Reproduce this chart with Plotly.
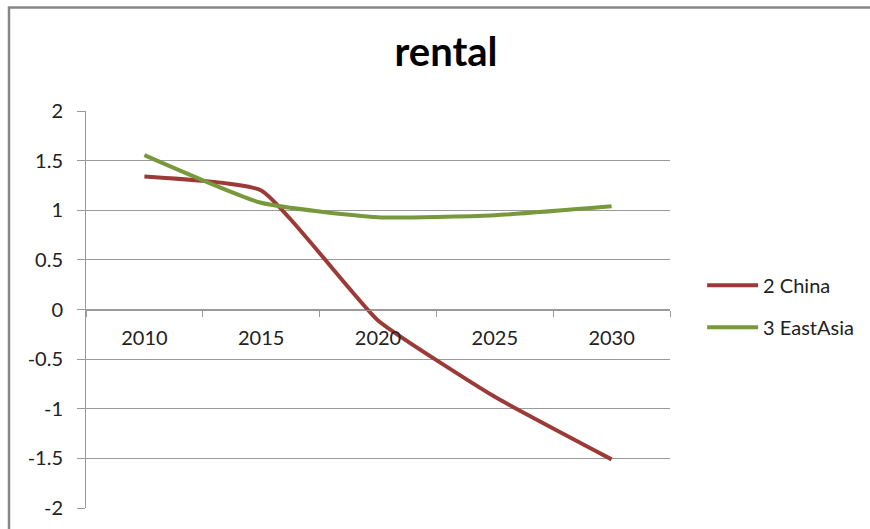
import plotly.graph_objects as go

years = ["2010", "2015", "2020", "2025", "2030"]
china = [1.34, 1.20, -0.11, -0.88, -1.51]
eastasia = [1.555, 1.075, 0.93, 0.95, 1.04]
y_tickvals = [-2, -1.5, -1, -0.5, 0, 0.5, 1, 1.5, 2]
y_ticktext = ["-2", "-1.5", "-1", "-0.5", "0", "0.5", "1", "1.5", "2"]

FONT = "Lato"
GRID = "#9a9a9a"

fig = go.Figure()
fig.add_trace(go.Scatter(x=years, y=china, name="2 China", mode="lines",
                         line=dict(color="#9b3a36", width=4, shape="spline", smoothing=0.4),
                         legendgroup="a"))
fig.add_trace(go.Scatter(x=years, y=eastasia, name="3 EastAsia", mode="lines",
                         line=dict(color="#77983b", width=4, shape="spline", smoothing=0.5),
                         legendgroup="b"))

fig.update_layout(
    width=870, height=529,
    margin=dict(l=86, r=200, t=111, b=21, autoexpand=False),
    paper_bgcolor="white", plot_bgcolor="white",
    font=dict(family=FONT, size=20, color="#222222"),
    title=dict(text="<b>rental</b>", font=dict(family=FONT, size=40, color="black"),
               x=446/870, xref="container", xanchor="center",
               y=1-52/529, yref="container", yanchor="middle"),
    showlegend=True,
    legend=dict(x=1.055, xanchor="left", y=0.508, yanchor="middle",
                itemwidth=51,
                font=dict(family=FONT, size=20, color="#222222"),
                tracegroupgap=13, traceorder="grouped", bgcolor="rgba(0,0,0,0)"),
    xaxis=dict(type="category", anchor="free", position=0.5, range=[-0.5, 4.5],
               automargin=False,
               showline=True, linecolor=GRID, linewidth=1,
               ticks="outside", ticklen=6, tickcolor=GRID, tickson="boundaries",
               showgrid=False, zeroline=False, ticklabelstandoff=10,
               tickfont=dict(family=FONT, size=20, color="#222222")),
    yaxis=dict(range=[-2, 2], tickvals=y_tickvals, ticktext=y_ticktext,
               automargin=False,
               showline=True, linecolor=GRID, linewidth=1,
               ticks="outside", ticklen=8, tickcolor=GRID,
               showgrid=True, gridcolor=GRID, gridwidth=1, zeroline=False,
               ticklabelstandoff=10,
               tickfont=dict(family=FONT, size=20, color="#222222")),
    shapes=[dict(type="rect", xref="paper", yref="paper",
                 x0=(9-86)/584, x1=(880-86)/584, y0=(508-540)/397, y1=(508-7.5)/397,
                 line=dict(color="#878787", width=2.5), fillcolor="rgba(0,0,0,0)",
                 layer="below")],
)

fig.write_html("out.html", config={"displayModeBar": False},
               post_script="document.body.style.margin='0';")
